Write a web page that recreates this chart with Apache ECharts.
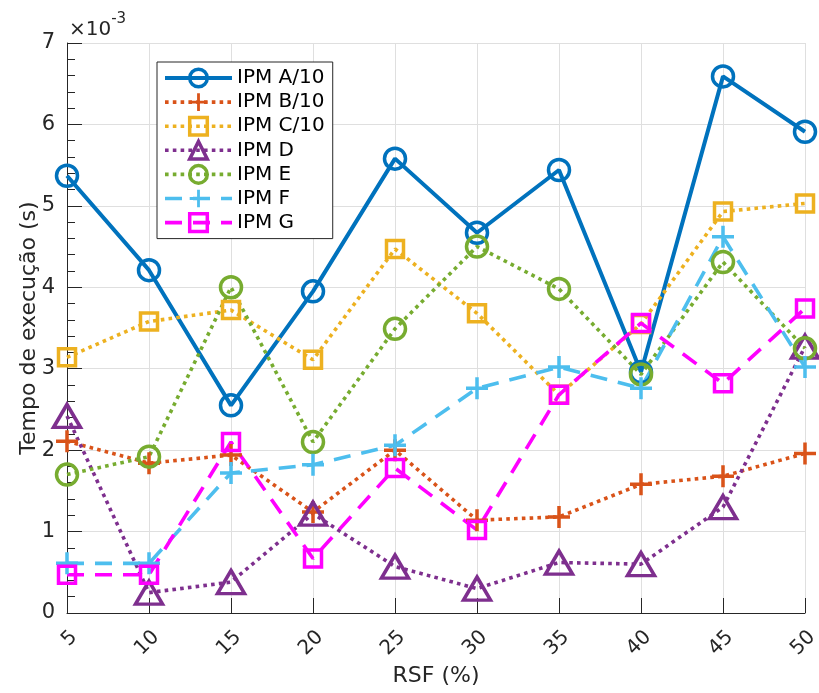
<!DOCTYPE html>
<html>
<head>
<meta charset="utf-8">
<script src="https://cdn.jsdelivr.net/npm/echarts@6/dist/echarts.min.js"></script>
<style>
  html, body { margin: 0; padding: 0; background: #ffffff; }
  #chart { width: 819px; height: 693px; }
</style>
</head>
<body>
<div id="chart"></div>
<script>
// RSF (%) values along the horizontal axis
const rsf = ['5', '10', '15', '20', '25', '30', '35', '40', '45', '50'];

// Execution times, in units of 10^-3 s
const ipmA10 = [5.37, 4.21, 2.55, 3.95, 5.58, 4.67, 5.44, 2.96, 6.59, 5.91];
const ipmB10 = [2.11, 1.84, 1.94, 1.24, 2.00, 1.14, 1.18, 1.58, 1.68, 1.96];
const ipmC10 = [3.14, 3.58, 3.72, 3.11, 4.47, 3.68, 2.68, 3.55, 4.93, 5.03];
const ipmD   = [2.42, 0.25, 0.38, 1.22, 0.57, 0.30, 0.62, 0.60, 1.30, 3.27];
const ipmE   = [1.70, 1.92, 4.00, 2.10, 3.49, 4.50, 3.98, 2.93, 4.31, 3.25];
const ipmF   = [0.61, 0.61, 1.72, 1.82, 2.06, 2.76, 3.02, 2.76, 4.62, 3.02];
const ipmG   = [0.47, 0.47, 2.10, 0.67, 1.78, 1.02, 2.68, 3.56, 2.82, 3.74];

const seriesNames = ['IPM A/10', 'IPM B/10', 'IPM C/10', 'IPM D', 'IPM E', 'IPM F', 'IPM G'];
const yTicks = ['0', '1', '2', '3', '4', '5', '6', '7'];

const FONT = 'DejaVu Sans';
const AXIS = '#262626';
const GRID = '#dfdfdf';
// filled "+" glyph used as a marker
const PLUS = 'path://M4.2,0H5.8V4.2H10V5.8H5.8V10H4.2V5.8H0V4.2H4.2Z';
const DOT = [3.6, 4.2];
const DASH = [17, 11];

function makeSeries(name, data, color, symbol, size, lineType, lineWidth) {
  const filled = symbol === PLUS;
  return {
    name: name,
    type: 'line',
    data: data,
    symbol: symbol,
    symbolSize: size,
    showAllSymbol: true,
    silent: true,
    lineStyle: { color: color, width: lineWidth, type: lineType, cap: 'butt' },
    itemStyle: filled
      ? { color: color, borderWidth: 0 }
      : { color: 'transparent', borderColor: color, borderWidth: 3.5 },
    emphasis: { disabled: true },
    animation: false
  };
}

const chart = echarts.init(document.getElementById('chart'), null, { renderer: 'canvas' });

chart.setOption({
  backgroundColor: '#ffffff',
  animation: false,
  textStyle: { fontFamily: FONT },
  grid: { left: 67, right: 14, top: 43, bottom: 80, containLabel: false, outerBoundsMode: 'none' },
  legend: {
    data: seriesNames,
    orient: 'vertical',
    left: 157,
    top: 62,
    itemWidth: 67,
    itemHeight: 22,
    itemGap: 0.1,
    padding: [4, 8, 4, 6],
    backgroundColor: '#ffffff',
    borderColor: AXIS,
    borderWidth: 1,
    selectedMode: false,
    lineStyle: { width: 'inherit', type: 'inherit' },
    itemStyle: { borderWidth: 'inherit' },
    textStyle: { fontFamily: FONT, fontSize: 20, lineHeight: 24, color: '#000000' }
  },
  xAxis: {
    type: 'category',
    data: rsf,
    boundaryGap: false,
    name: 'RSF (%)',
    nameLocation: 'middle',
    nameGap: 52,
    nameMoveOverlap: false,
    nameTextStyle: { fontFamily: FONT, fontSize: 22, color: AXIS },
    axisLine: { lineStyle: { color: AXIS, width: 1 } },
    axisTick: { show: true, inside: true, length: 15, alignWithLabel: true, lineStyle: { color: AXIS } },
    axisLabel: {
      rotate: 45, fontFamily: FONT, fontSize: 20, color: AXIS, margin: 14,
      align: 'right', verticalAlign: 'top'
    },
    splitLine: { show: true, lineStyle: { color: GRID, width: 1 } }
  },
  yAxis: {
    type: 'value',
    min: 0,
    max: 7,
    interval: 1,
    name: 'Tempo de execução (s)',
    nameLocation: 'middle',
    nameGap: 27,
    nameMoveOverlap: false,
    nameTextStyle: { fontFamily: FONT, fontSize: 22, color: AXIS },
    axisLine: { show: true, lineStyle: { color: AXIS, width: 1 } },
    axisTick: { show: true, inside: true, length: 15, lineStyle: { color: AXIS } },
    minorTick: { show: true, splitNumber: 5, length: 8, lineStyle: { color: AXIS } },
    axisLabel: {
      fontFamily: FONT, fontSize: 21, color: AXIS, margin: 12,
      formatter: function (v) { return yTicks[Math.round(v)]; }
    },
    splitLine: { show: true, lineStyle: { color: GRID, width: 1 } }
  },
  graphic: [{
    type: 'text',
    left: 69,
    top: 12,
    silent: true,
    style: {
      text: '{m|×10}{e|-3}',
      rich: {
        m: { fontFamily: FONT, fontSize: 20, fill: AXIS, verticalAlign: 'bottom', lineHeight: 28 },
        e: { fontFamily: FONT, fontSize: 15, fill: AXIS, verticalAlign: 'top', lineHeight: 28, padding: [0, 0, 14, 0] }
      }
    }
  }],
  series: [
    makeSeries(seriesNames[0], ipmA10, '#0072BD', 'circle', 21, 'solid', 4),
    makeSeries(seriesNames[1], ipmB10, '#D95319', PLUS, 22, DOT, 3.6),
    makeSeries(seriesNames[2], ipmC10, '#EDB120', 'rect', 17, DOT, 3.6),
    makeSeries(seriesNames[3], ipmD, '#7E2F8E', 'triangle', [27, 23], DOT, 3.6),
    makeSeries(seriesNames[4], ipmE, '#77AC30', 'circle', 21, DOT, 3.6),
    makeSeries(seriesNames[5], ipmF, '#4DBEEE', PLUS, 22, DASH, 3.6),
    makeSeries(seriesNames[6], ipmG, '#FF00FF', 'rect', 17, DASH, 3.6)
  ]
});
</script>
</body>
</html>
